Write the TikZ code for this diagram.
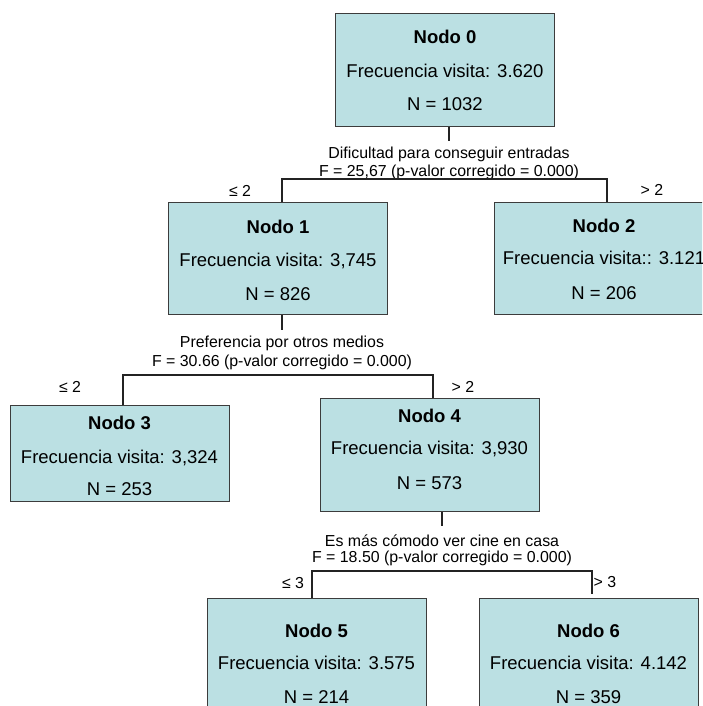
\documentclass[tikz,border=0pt]{standalone}
\usepackage{fontspec}
\setmainfont{Liberation Sans}
\definecolor{boxc}{RGB}{187,224,227}
\definecolor{bordc}{RGB}{60,60,60}
\definecolor{linec}{RGB}{35,35,35}
\begin{document}
\begin{tikzpicture}[x=1pt,y=-1pt,
  box/.style={draw=bordc, fill=boxc, line width=1.3pt, minimum width=219pt, inner sep=0pt, anchor=north west},
  ntitle/.style={font=\fontsize{18.5}{20}\selectfont\bfseries, anchor=base, inner sep=0pt},
  ntext/.style={font=\fontsize{18.5}{20}\selectfont, anchor=base, inner sep=0pt},
  ltext/.style={font=\fontsize{15.9}{17}\selectfont, anchor=base, inner sep=0pt},
  conn/.style={draw=linec, line width=1.1pt}]
\path[use as bounding box, clip] (0,0) rectangle (702,706);
\fill[white] (0,0) rectangle (702,706);

% boxes
\node[box, minimum height=113pt] (n0) at (335,13) {};
\node[box, minimum height=112pt] (n1) at (168,202) {};
\node[box, minimum height=112pt, minimum width=220pt] (n2) at (494,202) {};
\node[box, minimum height=96pt] (n3) at (10,405) {};
\node[box, minimum height=113pt] (n4) at (320,398) {};
\node[box, minimum height=114pt] (n5) at (207,598) {};
\node[box, minimum height=114pt] (n6) at (479,598) {};

% node texts
\node[ntitle] (t0a) at (445,43.6) {Nodo 0};
\node[ntext]  (t0b) at (445,77.6) {Frecuencia visita: 3.620};
\node[ntext]  (t0c) at (445,110.6) {N = 1032};

\node[ntitle] (t1a) at (278,233.6) {Nodo 1};
\node[ntext]  (t1b) at (278,266.6) {Frecuencia visita: 3,745};
\node[ntext]  (t1c) at (278,300.6) {N = 826};

\node[ntitle] (t2a) at (604,232.6) {Nodo 2};
\node[ntext]  (t2b) at (604,264.6) {Frecuencia visita:: 3.121};
\node[ntext]  (t2c) at (604,299.6) {N = 206};

\node[ntitle] (t3a) at (119.5,429.6) {Nodo 3};
\node[ntext]  (t3b) at (119.5,463.6) {Frecuencia visita: 3,324};
\node[ntext]  (t3c) at (119.5,495.6) {N = 253};

\node[ntitle] (t4a) at (429.5,422.6) {Nodo 4};
\node[ntext]  (t4b) at (429.5,454.6) {Frecuencia visita: 3,930};
\node[ntext]  (t4c) at (429.5,489.6) {N = 573};

\node[ntitle] (t5a) at (316.5,637.6) {Nodo 5};
\node[ntext]  (t5b) at (316.5,669.6) {Frecuencia visita: 3.575};
\node[ntext]  (t5c) at (316.5,703.6) {N = 214};

\node[ntitle] (t6a) at (588.5,637.6) {Nodo 6};
\node[ntext]  (t6b) at (588.5,669.6) {Frecuencia visita: 4.142};
\node[ntext]  (t6c) at (588.5,703.6) {N = 359};

% split labels
\node[ltext] (s0a) at (449,158) {Dificultad para conseguir entradas};
\node[ltext] (s0b) at (449,176.6) {F = 25,67 (p-valor corregido = 0.000)};
\node[ltext] (s1a) at (282,347) {Preferencia por otros medios};
\node[ltext] (s1b) at (282,366.5) {F = 30.66 (p-valor corregido = 0.000)};
\node[ltext] (s4a) at (442,546.7) {Es más cómodo ver cine en casa};
\node[ltext] (s4b) at (442,562.5) {F = 18.50 (p-valor corregido = 0.000)};

% branch labels
\node[ltext] (b1) at (240,196.5) {≤ 2};
\node[ltext] (b2) at (652,195.5) {> 2};
\node[ltext] (b3) at (70,392.5) {≤ 2};
\node[ltext] (b4) at (463,392.5) {> 2};
\node[ltext] (b5) at (293,588.5) {≤ 3};
\node[ltext] (b6) at (605,587.5) {> 3};

% connectors
\coordinate (a0) at (449,141);
\coordinate (f0l) at (282,179);
\coordinate (f0r) at (607,179);
\draw[conn] (a0 |- n0.south) -- (a0);
\draw[conn] (f0l |- n1.north) -- (f0l) -- (f0r) -- (f0r |- n2.north);

\coordinate (a1) at (282,330);
\coordinate (f1l) at (123,375);
\coordinate (f1r) at (433,375);
\draw[conn] (a1 |- n1.south) -- (a1);
\draw[conn] (f1l |- n3.north) -- (f1l) -- (f1r) -- (f1r |- n4.north);

\coordinate (a4) at (442,526);
\coordinate (f4l) at (312,571);
\coordinate (f4r) at (592,571);
\coordinate (e6) at (592,594);
\draw[conn] (a4 |- n4.south) -- (a4);
\draw[conn] (f4l |- n5.north) -- (f4l) -- (f4r) -- (e6);
\end{tikzpicture}
\end{document}
